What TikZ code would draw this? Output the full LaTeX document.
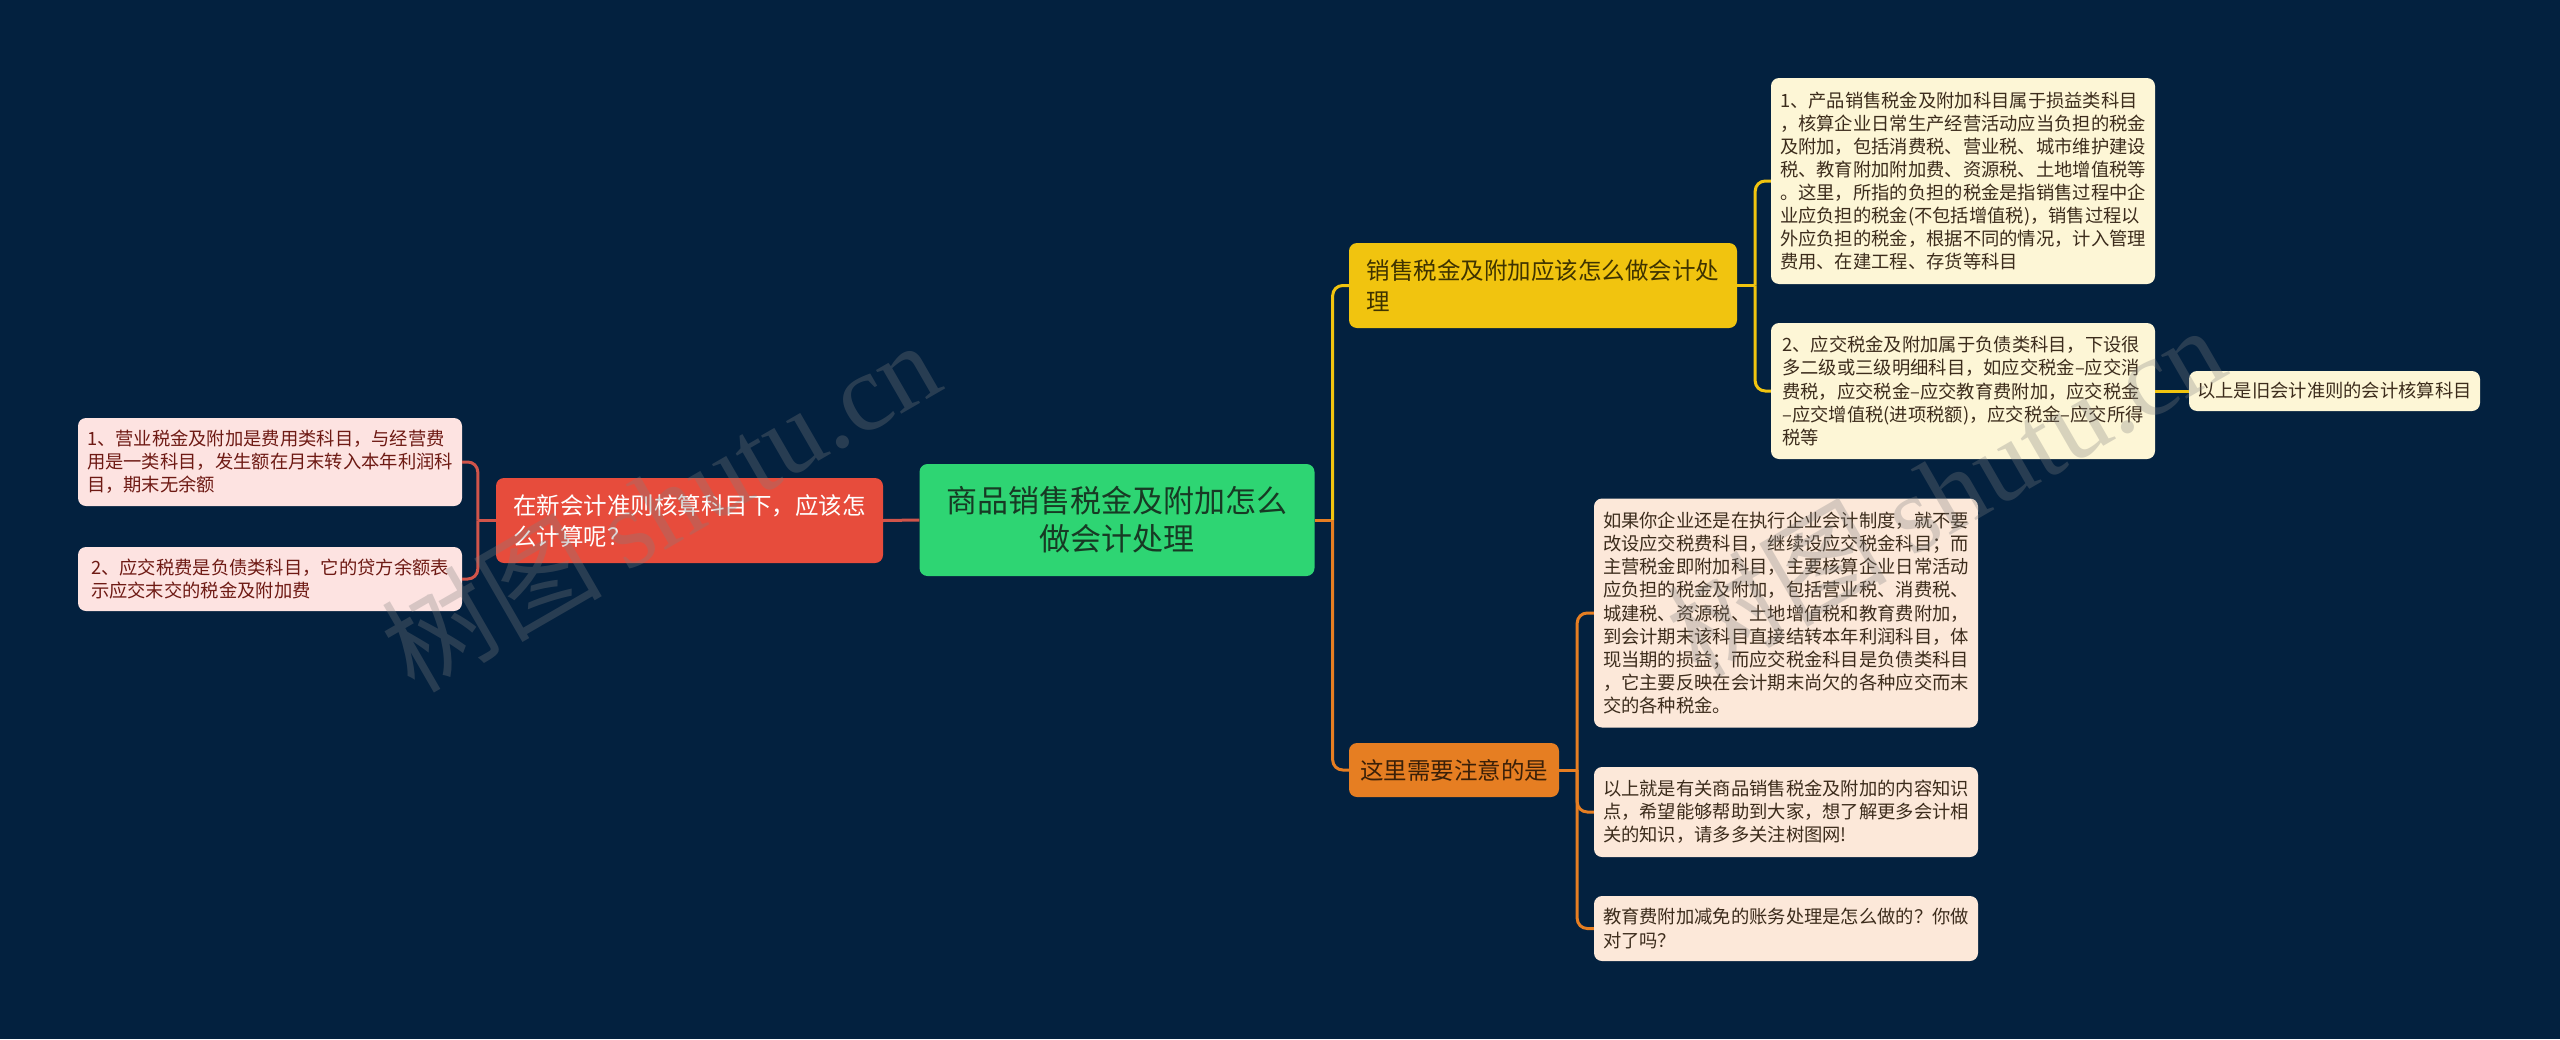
\documentclass[tikz,border=0pt]{standalone}
\usepackage{fontspec}
\setmainfont{Noto Sans CJK SC}
\newfontfamily\wmfont{Liberation Serif}

\definecolor{bgnavy}{HTML}{03213F}
\definecolor{rootgreen}{HTML}{2ED573}
\definecolor{roottext}{HTML}{173A24}
\definecolor{redq}{HTML}{E74C3C}
\definecolor{redline}{HTML}{D0544A}
\definecolor{yellowq}{HTML}{F1C40F}
\definecolor{yellowtext}{HTML}{3F3300}
\definecolor{orangeq}{HTML}{E67E22}
\definecolor{orangetext}{HTML}{3B2008}
\definecolor{yleaf}{HTML}{FDF6D6}
\definecolor{oleaf}{HTML}{FCE8D9}
\definecolor{rleaf}{HTML}{FDE3E1}
\definecolor{leaftext}{HTML}{3C2C1C}
\definecolor{rleaftext}{HTML}{6E1A14}

\usetikzlibrary{positioning}

\tikzset{
  box/.style={rounded corners=8pt, inner sep=0pt, align=left},
  leaf/.style={box, minimum width=384pt, font=\fontsize{18.3}{23.1}\selectfont},
  link/.style={line width=3pt, rounded corners=10pt},
  wmark/.style={text=gray, text opacity=0.3, rotate=30,
                font=\fontsize{110}{110}\selectfont},
}

\begin{document}
\begin{tikzpicture}[x=1pt,y=-1pt]

      \fill[bgnavy] (0,0) rectangle (2560,1039);
      \useasboundingbox (0,0) rectangle (2560,1039);

      % centre topic
      \node[box, fill=rootgreen, text=roottext, align=center,
            minimum width=395pt, minimum height=112pt,
            font=\fontsize{31}{38}\selectfont] (root) at (1117,520)
            {商品销售税金及附加怎么\\做会计处理};

      \begin{scope}[every node/.style={box, minimum height=85pt, font=\fontsize{23.5}{31}\selectfont}]
        \node[fill=redq, text=white, minimum width=387pt] (newq) at (689.5,520.5)
              {在新会计准则核算科目下，应该怎\\么计算呢？};
        \node[fill=yellowq, text=yellowtext, minimum width=388pt] (salesq) at (1543,285.5)
              {销售税金及附加应该怎么做会计处\\理};
        \node[fill=orangeq, text=orangetext, minimum width=210pt, minimum height=54pt] (notes) at (1454,770)
              {这里需要注意的是};
      \end{scope}

      \begin{scope}[every node/.style={leaf, fill=rleaf, text=rleaftext}]
        \node[minimum height=88pt] (lleafA) at (270,462)
              {1、营业税金及附加是费用类科目，与经营费\\用是一类科目，发生额在月末转入本年利润科\\目，期末无余额};
        \node[minimum height=64pt] (lleafB) at (270,579)
              {2、应交税费是负债类科目，它的贷方余额表\\示应交末交的税金及附加费};
      \end{scope}

      \begin{scope}[every node/.style={leaf, fill=yleaf, text=leaftext}]
        \node[minimum height=206pt] (yleafA) at (1963,181)
              {1、产品销售税金及附加科目属于损益类科目\\，核算企业日常生产经营活动应当负担的税金\\及附加，包括消费税、营业税、城市维护建设\\税、教育附加附加费、资源税、土地增值税等\\。这里，所指的负担的税金是指销售过程中企\\业应负担的税金(不包括增值税)，销售过程以\\外应负担的税金，根据不同的情况，计入管理\\费用、在建工程、存货等科目};
        \node[minimum height=136pt] (yleafB) at (1963,391)
              {2、应交税金及附加属于负债类科目，下设很\\多二级或三级明细科目，如应交税金–应交消\\费税，应交税金–应交教育费附加，应交税金\\–应交增值税(进项税额)，应交税金–应交所得\\税等};
        \node[minimum width=291pt, minimum height=40pt] (oldleaf) at (2334.5,391)
              {以上是旧会计准则的会计核算科目};
      \end{scope}

      \begin{scope}[every node/.style={leaf, fill=oleaf, text=leaftext}]
        \node[minimum height=229pt] (oleafA) at (1786,613)
              {如果你企业还是在执行企业会计制度，就不要\\改设应交税费科目，继续设应交税金科目；而\\主营税金即附加科目，主要核算企业日常活动\\应负担的税金及附加，包括营业税、消费税、\\城建税、资源税、土地增值税和教育费附加，\\到会计期末该科目直接结转本年利润科目，体\\现当期的损益；而应交税金科目是负债类科目\\，它主要反映在会计期末尚欠的各种应交而末\\交的各种税金。};
        \node[minimum height=90pt] (oleafB) at (1786,812)
              {以上就是有关商品销售税金及附加的内容知识\\点，希望能够帮助到大家，想了解更多会计相\\关的知识，请多多关注树图网!};
        \node[minimum height=65pt] (oleafC) at (1786,928.5)
              {教育费附加减免的账务处理是怎么做的？你做\\对了吗？};
      \end{scope}

      % junction points
      \path (root.east) ++(18,0) coordinate (rj);
      \path (salesq.east) ++(18,0) coordinate (sj);
      \path (notes.east) ++(18,0) coordinate (nj);
      \path (newq.west) ++(-18,0) coordinate (qj);

      \begin{scope}[every path/.style={link}]
        \draw[orangeq] (root.east) -- (rj);
        \draw[yellowq] (rj) |- (salesq.west);
        \draw[orangeq] (rj) |- (notes.west);

        \draw[yellowq] (salesq.east) -- (sj);
        \draw[yellowq] (sj) |- (yleafA.west);
        \draw[yellowq] (sj) |- (yleafB.west);
        \draw[yellowq] (yleafB.east) -- (oldleaf.west);

        \draw[orangeq] (notes.east) -- (nj);
        \draw[orangeq] (nj) |- (oleafA.west);
        \draw[orangeq] (nj) |- (oleafB.west);
        \draw[orangeq] (nj) |- (oleafC.west);

        \draw[redline] (root.west) -- (newq.east);
        \draw[redline] (newq.west) -- (qj);
        \draw[redline] (qj) |- (lleafA.east);
        \draw[redline] (qj) |- (lleafB.east);
      \end{scope}

      % watermark
      \node[wmark] (wmleft) at (660,505) {树图 {\wmfont shutu.cn}};
      \node[wmark] (wmright) at (1945,490) {树图 {\wmfont shutu.cn}};

    \end{tikzpicture}
\end{document}
